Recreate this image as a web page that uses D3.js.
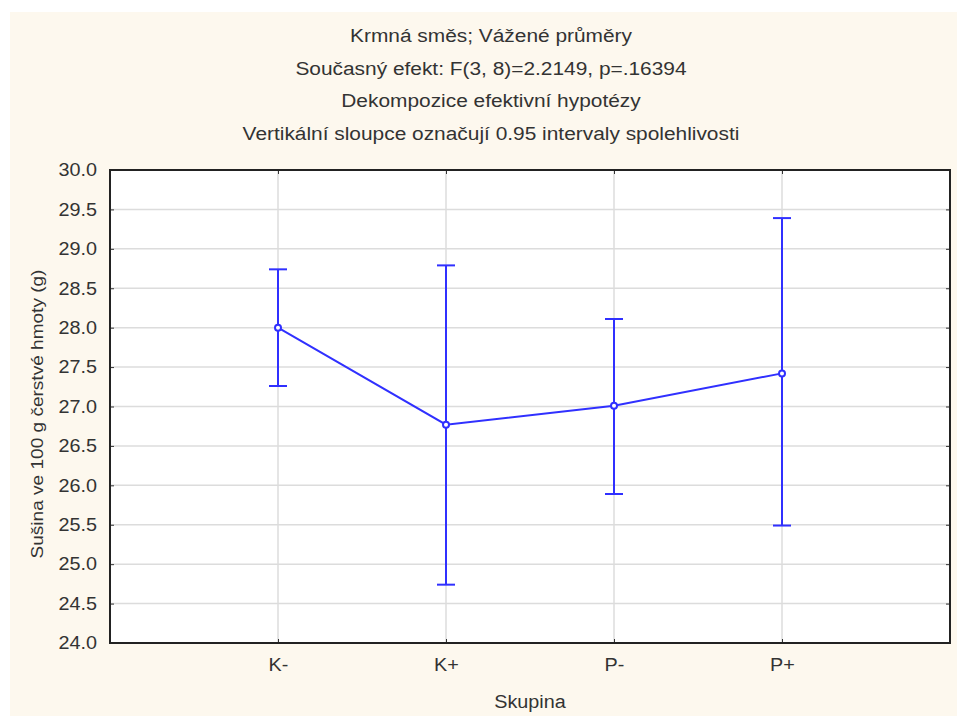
<!DOCTYPE html>
<html><head><meta charset="utf-8">
<script src="https://cdn.jsdelivr.net/npm/d3@7"></script>
<style>body{margin:0;background:#fff;}svg{display:block;}text{font-family:"Liberation Sans",Arial,sans-serif;fill:#333;}</style>
</head><body>
<svg id="c" width="957" height="716"></svg>
<script>
const titles = ["Krmná směs; Vážené průměry","Současný efekt: F(3, 8)=2.2149, p=.16394","Dekompozice efektivní hypotézy","Vertikální sloupce označují 0.95 intervaly spolehlivosti"];
const categories = ["K-","K+","P-","P+"];
const means = [28.0, 26.77, 27.01, 27.42];
const upper = [28.74, 28.79, 28.11, 29.39];
const lower = [27.26, 24.74, 25.89, 25.49];
const yTicks = [24.0,24.5,25.0,25.5,26.0,26.5,27.0,27.5,28.0,28.5,29.0,29.5,30.0];
const xLabel = "Skupina";
const yLabel = "Sušina ve 100 g čerstvé hmoty (g)";

const FONT = "'Liberation Sans',Arial,sans-serif";
function stretch(sel, k){
  sel.each(function(){
    const len = this.getComputedTextLength();
    d3.select(this).attr("textLength", len*k).attr("lengthAdjust","spacingAndGlyphs");
  });
}

const svg = d3.select("#c");
const L=110, R=950, T=170, B=643;
svg.append("rect").attr("x",10).attr("y",12).attr("width",947).attr("height",704).attr("fill","#fdf8ee");
svg.append("rect").attr("x",L).attr("y",T).attr("width",R-L).attr("height",B-T).attr("fill","#fff");

const x = d3.scaleLinear().domain([0,categories.length+1]).range([L,R]);
const y = d3.scaleLinear().domain([24,30]).range([B,T]);

// titles
const tt = svg.selectAll(".title").data(titles).join("text")
  .attr("x",491).attr("y",(d,i)=>42+i*32.7).attr("text-anchor","middle")
  .attr("font-size",18).text(d=>d);
stretch(tt, 1.16);

// grid
const g = svg.append("g");
g.selectAll(".hg").data(yTicks.slice(1,-1)).join("line")
  .attr("x1",L).attr("x2",R).attr("y1",d=>y(d)).attr("y2",d=>y(d))
  .attr("stroke","#dcdcdc").attr("stroke-width",1.5);
g.selectAll(".vg").data(categories).join("line")
  .attr("x1",(d,i)=>x(i+1)).attr("x2",(d,i)=>x(i+1)).attr("y1",T).attr("y2",B)
  .attr("stroke","#dcdcdc").attr("stroke-width",1.5);

// axes
const yAxis = d3.axisLeft(y).tickValues(yTicks).tickFormat(d3.format(".1f")).tickSizeInner(-4).tickSizeOuter(0).tickPadding(13);
const ya = svg.append("g").attr("transform",`translate(${L},0)`).call(yAxis);
ya.select(".domain").remove();
ya.selectAll("line").attr("stroke","#333");
ya.selectAll("text").attr("font-size",18).attr("fill","#333").style("font-family",FONT);
stretch(ya.selectAll("text"), 1.1);
const yr = svg.append("g").attr("transform",`translate(${R},0)`).call(d3.axisRight(y).tickValues(yTicks).tickSizeInner(-4).tickSizeOuter(0).tickFormat(""));
yr.select(".domain").remove(); yr.selectAll("line").attr("stroke","#333");

const xAxis = d3.axisBottom(x).tickValues(categories.map((d,i)=>i+1)).tickFormat(d=>categories[d-1]).tickSizeInner(-4).tickSizeOuter(0).tickPadding(15);
const xa = svg.append("g").attr("transform",`translate(0,${B})`).call(xAxis);
xa.select(".domain").remove();
xa.selectAll("line").attr("stroke","#333");
xa.selectAll("text").attr("font-size",18).attr("fill","#333").style("font-family",FONT);
stretch(xa.selectAll("text"), 1.1);
const xt = svg.append("g").attr("transform",`translate(0,${T})`).call(d3.axisTop(x).tickValues(categories.map((d,i)=>i+1)).tickSizeInner(-4).tickSizeOuter(0).tickFormat(""));
xt.select(".domain").remove(); xt.selectAll("line").attr("stroke","#333");

// border
svg.append("rect").attr("x",L).attr("y",T).attr("width",R-L).attr("height",B-T)
  .attr("fill","none").attr("stroke","#222").attr("stroke-width",2);

// error bars
const blue = "#3030ff";
const eb = svg.append("g").attr("stroke",blue).attr("stroke-width",2);
categories.forEach((c,i)=>{
  const cx = x(i+1);
  eb.append("line").attr("x1",cx).attr("x2",cx).attr("y1",y(lower[i])).attr("y2",y(upper[i]));
  eb.append("line").attr("x1",cx-9).attr("x2",cx+9).attr("y1",y(lower[i])).attr("y2",y(lower[i]));
  eb.append("line").attr("x1",cx-9).attr("x2",cx+9).attr("y1",y(upper[i])).attr("y2",y(upper[i]));
});
// mean line
const line = d3.line().x((d,i)=>x(i+1)).y(d=>y(d));
svg.append("path").datum(means).attr("d",line).attr("fill","none").attr("stroke",blue).attr("stroke-width",2);
svg.selectAll(".pt").data(means).join("circle")
  .attr("cx",(d,i)=>x(i+1)).attr("cy",d=>y(d)).attr("r",3)
  .attr("fill","#fff").attr("stroke",blue).attr("stroke-width",2);

// axis labels
const xl = svg.append("text").attr("x",(L+R)/2).attr("y",708).attr("text-anchor","middle").attr("font-size",18).text(xLabel);
stretch(xl, 1.1);
const yl = svg.append("text").attr("transform",`translate(43,${414}) rotate(-90)`).attr("text-anchor","middle").attr("font-size",17).text(yLabel);
stretch(yl, 1.12);
</script>
</body></html>
